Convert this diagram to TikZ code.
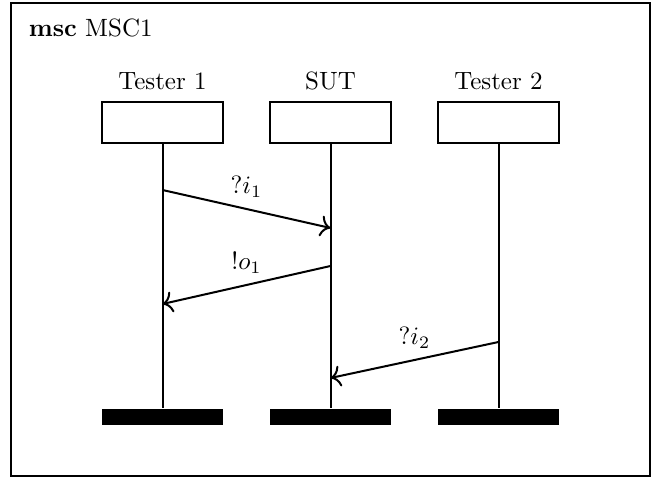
\documentclass[tikz,border=0pt]{standalone}
\usepackage{tikz}
\usetikzlibrary{arrows.meta}

\tikzset{
	inst/.style={draw,thick,minimum width=48.4pt,minimum height=16.4pt,inner sep=0pt},
	instend/.style={fill=black,minimum width=48.4pt,minimum height=6.4pt,inner sep=0pt},
	life/.style={thick},
	msg/.style={thick,-{Computer Modern Rightarrow[scale=1.2]}}
}

\begin{document}
\begin{tikzpicture}[x=0.4pt,y=-0.4pt]
	\useasboundingbox (0,0) rectangle (659,478);
	\draw[thick] (11,3) rectangle (650,476);
	\node[anchor=base west] (title) at (20,37) {\textbf{msc} MSC1};
	% instances
	\node[inst] (tester1) at (162.5,123) {};
	\node[inst] (sut) at (330.5,123) {};
	\node[inst] (tester2) at (498.5,123) {};
	\node[above=1pt] (tester1name) at (tester1.north) {Tester 1};
	\node[above=1pt] (sutname) at (sut.north) {SUT};
	\node[above=1pt] (tester2name) at (tester2.north) {Tester 2};
	\foreach \i in {tester1,sut,tester2}{
		\node[instend] (\i end) at (\i |- 0,417) {};
		\draw[life] (\i) -- (\i end);
		}
	% messages
	\coordinate (i1from) at (tester1 |- 0,190);
	\coordinate (i1to) at (sut |- 0,228);
	\coordinate (o1from) at (sut |- 0,266);
	\coordinate (o1to) at (tester1 |- 0,304);
	\coordinate (i2from) at (tester2 |- 0,342);
	\coordinate (i2to) at (sut |- 0,378);
	\draw[msg] (i1from) -- node[above=1pt] (i1) {$?i_1$} (i1to);
	\draw[msg] (o1from) -- node[above=1pt] (o1) {$!o_1$} (o1to);
	\draw[msg] (i2from) -- node[above=1pt] (i2) {$?i_2$} (i2to);
\end{tikzpicture}
\end{document}
